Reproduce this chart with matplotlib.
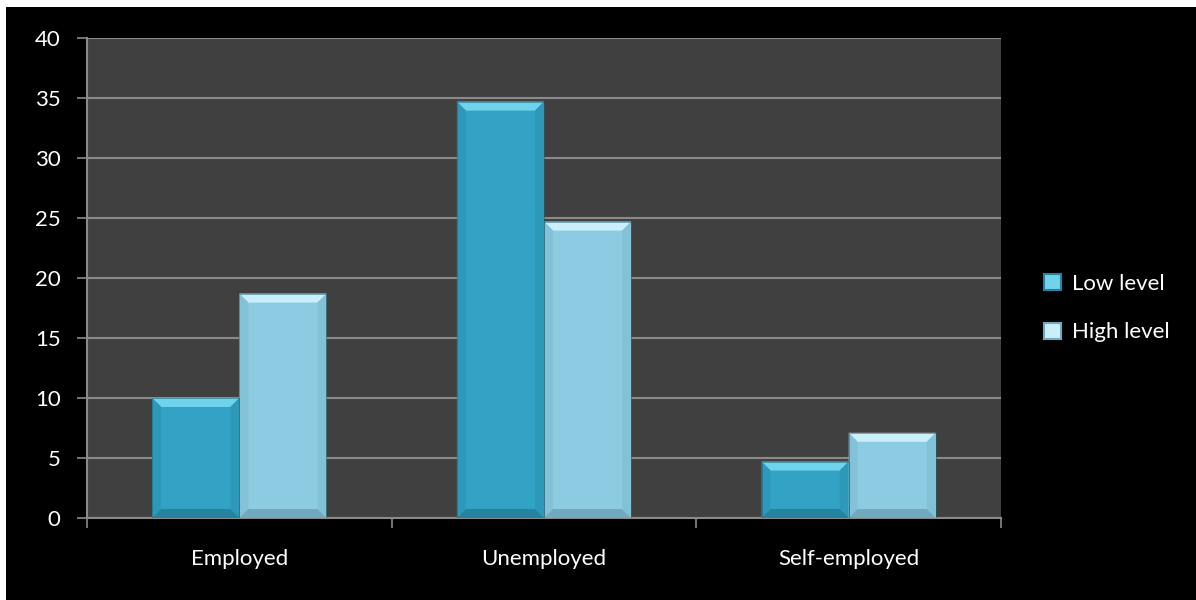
import numpy as np
import matplotlib.pyplot as plt
from matplotlib.patches import Polygon, Rectangle, Patch

categories = ['Employed', 'Unemployed', 'Self-employed']
low_level = [10.0, 34.7, 4.7]
high_level = [18.7, 24.7, 7.1]
series_names = ['Low level', 'High level']

plt.rcParams['font.family'] = ['Lato', 'DejaVu Sans']

# face, top bevel, side bevel, bottom bevel
low_cols = ('#32a3c4', '#6fd3ec', '#2d98b8', '#26839f')
high_cols = ('#8ccbe2', '#c9f0fa', '#83c1d7', '#72a9be')

fig = plt.figure(figsize=(11.96, 6.0), dpi=100, facecolor='white')
fig.patches.append(Rectangle((6 / 1196, 0), 1 - 6 / 1196, 593 / 600,
                             transform=fig.transFigure, facecolor='black',
                             edgecolor='none', zorder=-10))
ax = fig.add_axes([87 / 1196, 82 / 600, 914 / 1196, 480 / 600])
ax.set_facecolor('#404040')
ax.set_xlim(-0.5, 2.5)
ax.set_ylim(0, 40)

ax.set_yticks(np.arange(0, 41, 5))
ax.yaxis.grid(True, color='#8a8a8a', linewidth=1.5)
ax.set_axisbelow(True)
ax.set_xticks(np.arange(len(categories)))
ax.set_xticklabels(categories)
ax.set_xticks([-0.5, 0.5, 1.5, 2.5], minor=True)
ax.tick_params(axis='x', which='major', length=0, pad=22, colors='white', labelsize=16)
ax.tick_params(axis='x', which='minor', length=7, width=1.2, color='#8a8a8a', direction='out')
ax.tick_params(axis='y', length=7, width=1.2, color='#8a8a8a', labelcolor='white',
               labelsize=16, pad=12)
for s in ['top', 'right']:
    ax.spines[s].set_visible(False)
for s in ['left', 'bottom']:
    ax.spines[s].set_color('#8a8a8a')
    ax.spines[s].set_linewidth(1.5)

# pixel -> data scale for bevel size
px_x = 3.0 / 914
px_y = 40.0 / 480
bev = 9
bw = 0.286
x = np.arange(len(categories))


def bevel_bar(xc, h, cols):
    face, top, side, bot = cols
    x0, x1 = xc - bw / 2, xc + bw / 2
    bx, by = bev * px_x, min(bev * px_y, h / 2)
    ax.add_patch(Rectangle((x0, 0), bw, h, facecolor=face, edgecolor='none', zorder=3))
    ax.add_patch(Polygon([(x0, h), (x1, h), (x1 - bx, h - by), (x0 + bx, h - by)],
                         closed=True, facecolor=top, edgecolor='none', zorder=4))
    ax.add_patch(Polygon([(x0, h), (x0 + bx, h - by), (x0 + bx, by), (x0, 0)],
                         closed=True, facecolor=side, edgecolor='none', zorder=4))
    ax.add_patch(Polygon([(x1, h), (x1 - bx, h - by), (x1 - bx, by), (x1, 0)],
                         closed=True, facecolor=side, edgecolor='none', zorder=4))
    ax.add_patch(Polygon([(x0, 0), (x1, 0), (x1 - bx, by), (x0 + bx, by)],
                         closed=True, facecolor=bot, edgecolor='none', zorder=4))
    ax.add_patch(Rectangle((x0, 0), bw, h, facecolor='none', edgecolor='#1f5f73',
                           linewidth=0.6, alpha=0.6, zorder=5))


for i in range(len(categories)):
    bevel_bar(x[i] - bw / 2, low_level[i], low_cols)
    bevel_bar(x[i] + bw / 2, high_level[i], high_cols)

handles = [Patch(facecolor=low_cols[1], edgecolor=low_cols[3], linewidth=1.5),
           Patch(facecolor=high_cols[1], edgecolor=high_cols[3], linewidth=1.5)]
leg = fig.legend(handles, series_names, loc='center left',
                 bbox_to_anchor=(1024 / 1196, 1 - 308 / 600), frameon=False,
                 handlelength=0.75, handleheight=0.75, handletextpad=0.5,
                 labelspacing=1.3, fontsize=16, labelcolor='white')

fig.savefig('out.png', dpi=100, facecolor=fig.get_facecolor())
